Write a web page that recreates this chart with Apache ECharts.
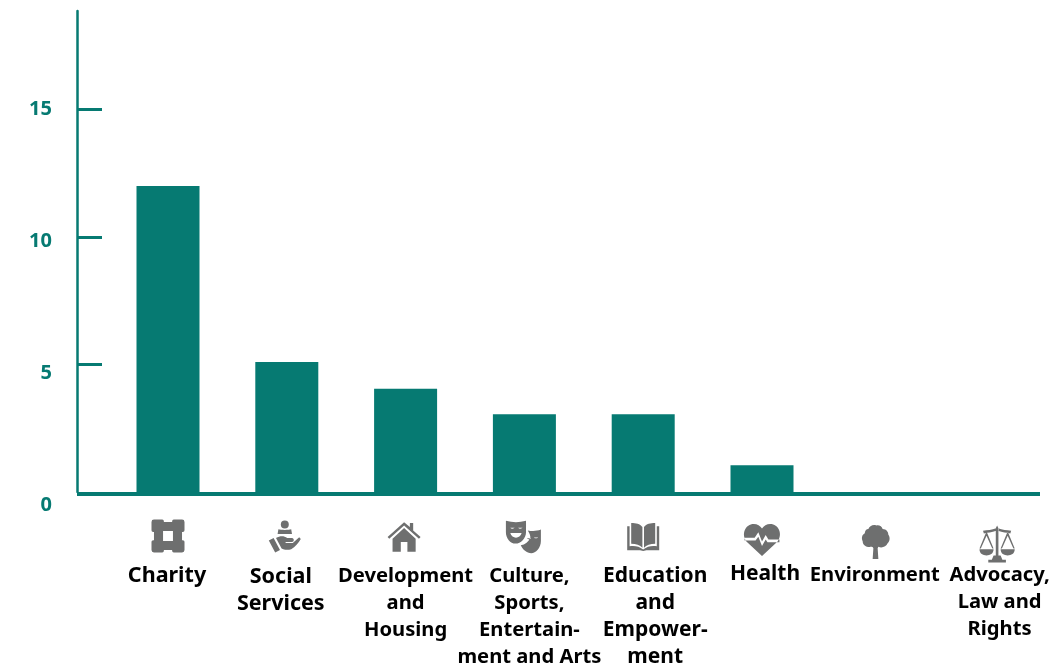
<!DOCTYPE html>
<html>
<head>
<meta charset="utf-8">
<script src="https://cdn.jsdelivr.net/npm/echarts@6/dist/echarts.min.js"></script>
<style>html,body{margin:0;padding:0;background:#fff}#chart{width:1055px;height:669px}</style>
</head>
<body>
<div id="chart"></div>
<script>
// Sectors and the number of organisations in each
const categories = ['Charity', 'Social\nServices', 'Development\nand\nHousing', 'Culture,\nSports,\nEntertain-\nment and Arts', 'Education\nand\nEmpower-\nment', 'Health', 'Environment', 'Advocacy,\nLaw and\nRights'];
const values = [12, 5.1, 4.05, 3.05, 3.05, 1.05, 0, 0];
const tickValues = [0, 5, 10, 15];

// Pictograms, one per sector
const icons = [
  'path://M3 0h10a2 2 0 0 1 2 2v1h10V2a2 2 0 0 1 2-2h10a3 3 0 0 1 3 3v10a2 2 0 0 1-2 2h-1v10h1a2 2 0 0 1 2 2v10a3 3 0 0 1-3 3H27a2 2 0 0 1-2-2v-1H15v1a2 2 0 0 1-2 2H3a3 3 0 0 1-3-3V27a2 2 0 0 1 2-2h1V15H2a2 2 0 0 1-2-2V3a3 3 0 0 1 3-3zM14 14v12h12V14z',
  'path://M20 0a5 5 0 1 1 0 10a5 5 0 0 1 0-10zM12 11c3 1 13 1 16 0l1 6H11zM0 25l6-3 8 15-6 3zM9 22c5-3 10-3 14 0h6c3 0 3 5 0 5h-8v1h9l8-7 2 2c-3 5-7 10-12 13-4 1-9 1-12-1z',
  'path://M20 2l7 6V3h4v9l9 8-2 2L20 6 2 22 0 20zM20 9l14 13v16H24V26h-8v12H6V22z',
  'path://M0 0c8 2 15 2 23 0v13c0 7-6 13-12 13C5 26 0 20 0 13zM5 8a3 2 0 0 0 5 0zM14 8a3 2 0 0 0 5 0zM5 14c2 7 11 7 13 0zM25 11c5 1 10 1 15-1v13c0 8-6 14-11 14-5 0-10-4-12-9 5-1 9-4 11-9 0-2-1-5-3-8zM24 20a3 2 0 0 0 5 0zM32 19a3 2 0 0 0 5 0zM24 31c3-5 8-5 10-1z',
  'path://M5 3c6 0 11 1 14 5v26c-3-3-8-5-14-5zM21 8c3-4 8-5 14-5v26c-6 0-11 2-14 5zM0 7h3v25c6-1 12 0 17 4 5-4 11-5 17-4V7h3v30H24l-4 1-4-1H0z',
  'path://M20 38L3 22C-3 14 2 3 11 3c4 0 7 2 9 5 2-3 5-5 9-5 9 0 14 11 8 19zM1 18v3h12l3-4 4 10 4-7 2 3h13v-3H27l-3-5-4 7-4-10-4 6z',
  'path://M10 6c1-4 7-7 11-5 4-1 8 1 9 5 5 0 8 4 8 8 3 4 2 9-1 12-2 5-8 7-13 5l-1 2 1 15h-8l1-15c-1-2-2-2-3-2-6 1-12-2-12-8-2-4-1-9 3-11 0-3 2-6 5-6z',
  'path://M20 0l1.5 3v5h-3V3zM18.5 8h3v26h-3zM4 6c5-1 10-1 15-3v3c-5 2-10 2-14 3zM36 6c-5-1-10-1-15-3v3c5 2 10 2 14 3zM16 34h8l2 5h4v3H10v-3h4zM0 27h16c0 5-4 7-8 7s-8-2-8-7zM7.5 8h1L16 26h-1.5L8 11.5 1.5 26H0zM24 27h16c0 5-4 7-8 7s-8-2-8-7zM31.5 8h1L40 26h-1.5L32 11.5 25.5 26H24z'
];
const iconSizes = [33, 32, 33, 35, 32, 36, 34, 37];
const iconOffsets = [[0, 44], [-2, 44.5], [-1.5, 45], [-1, 45], [0, 45], [0, 48], [-5, 50], [-2.5, 52]];

const teal = '#067a72';
const font = '"Noto Sans", sans-serif';

// Fine placement of each label block under its bar: [down, sideways], and its type size
const labelNudge = [[2, -1], [3, -6], [2, 0], [2, 5], [2, 12], [0, 3], [1, -6], [1, 0]];
const labelSizes = [21.5, 21.5, 20.2, 20.2, 21, 21, 20.2, 20.2];
const labelPadding = labelNudge.map(([d, s]) => [d, s < 0 ? -2 * s : 0, 0, s > 0 ? 2 * s : 0]);

const chart = echarts.init(document.getElementById('chart'), null, { renderer: 'canvas' });
chart.setOption({
  animation: false,
  backgroundColor: '#ffffff',
  grid: [
    { left: 168, width: 831.6, top: 11, height: 481, containLabel: false, outerBoundsMode: 'none' },
    { left: 77, width: 963, top: 109, height: 396, containLabel: false, outerBoundsMode: 'none' }
  ],
  xAxis: [
    {
      gridIndex: 0,
      type: 'category',
      boundaryGap: false,
      data: categories.map((c, i) => ({ value: c, textStyle: { padding: labelPadding[i], fontSize: labelSizes[i] } })),
      axisLine: { show: false },
      axisTick: { show: false },
      axisLabel: {
        interval: 0,
        margin: 68.5,
        color: '#000000',
        fontFamily: font,
        fontSize: 20,
        fontWeight: 700,
        lineHeight: 27,
        verticalAlign: 'top',
        align: 'center',
        hideOverlap: false
      }
    },
    {
      gridIndex: 1,
      type: 'value',
      min: 0,
      max: 1,
      offset: -11,
      splitLine: { show: false },
      axisTick: { show: false },
      axisLabel: { show: false },
      axisLine: { show: true, lineStyle: { color: teal, width: 4, cap: 'butt' } }
    }
  ],
  yAxis: [
    {
      gridIndex: 0,
      type: 'value',
      min: 0,
      max: 18.86,
      offset: 91,
      splitLine: { show: false },
      axisLine: { show: true, lineStyle: { color: teal, width: 2.5 } },
      axisTick: { show: true, inside: true, length: 25, customValues: tickValues.slice(1), lineStyle: { color: teal, width: 3 } },
      axisLabel: { show: false }
    },
    {
      gridIndex: 1,
      type: 'value',
      min: 0,
      max: 15,
      interval: 5,
      splitLine: { show: false },
      axisLine: { show: false },
      axisTick: { show: false },
      axisLabel: { show: true, customValues: tickValues, margin: 25, color: teal, fontFamily: font, fontSize: 20, fontWeight: 700 }
    }
  ],
  series: [
    {
      type: 'bar',
      xAxisIndex: 0,
      yAxisIndex: 0,
      clip: false,
      data: values,
      barWidth: 63,
      itemStyle: { color: teal }
    },
    {
      type: 'scatter',
      xAxisIndex: 0,
      yAxisIndex: 0,
      clip: false,
      silent: true,
      data: categories.map((c, i) => ({
        value: [i, 0],
        symbol: icons[i],
        symbolSize: iconSizes[i],
        symbolKeepAspect: true,
        symbolOffset: iconOffsets[i]
      })),
      itemStyle: { color: '#6e6f6f', opacity: 1 }
    }
  ]
});
</script>
</body>
</html>
